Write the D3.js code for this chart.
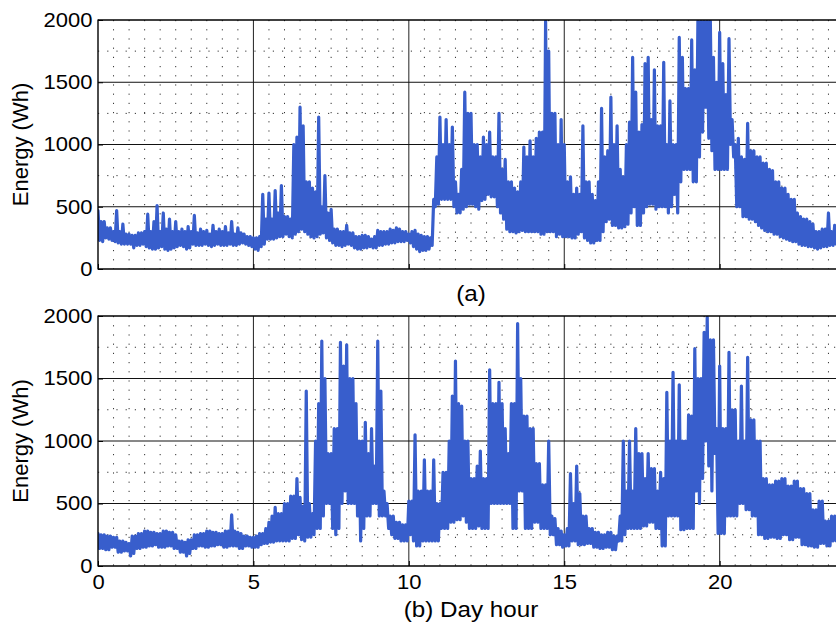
<!DOCTYPE html>
<html>
<head>
<meta charset="utf-8">
<script src="https://cdn.jsdelivr.net/npm/d3@7"></script>
<style>
  html, body { margin: 0; padding: 0; background: #fff; overflow: hidden; }
  svg { display: block; }
</style>
</head>
<body>
<svg id="chart" width="836" height="626"></svg>
<script>
// Energy readings in 0.1 h bins starting at hour 0: the highest and the
// lowest reading of every bin. The trace swings between the two.
const binHours = 0.1;

const xTicks = [0, 5, 10, 15, 20];
const yTicks = [0, 500, 1000, 1500, 2000];
const yLabel = "Energy (Wh)";
const captions = ["(a)", "(b) Day hour"];

// Household (a)
const peaksA = [
  470, 380, 380, 330, 330, 300, 470, 300, 360, 280,
  280, 270, 270, 290, 290, 300, 440, 300, 380, 510,
  300, 450, 320, 400, 300, 380, 300, 320, 300, 340,
  300, 430, 290, 320, 300, 310, 280, 350, 300, 320,
  300, 340, 290, 380, 280, 330, 290, 280, 260, 260,
  250, 250, 260, 600, 400, 610, 400, 630, 450, 670,
  420, 420, 400, 1000, 1060, 1300, 1150, 700, 700, 650,
  620, 1220, 500, 750, 450, 480, 320, 320, 300, 300,
  350, 290, 290, 260, 260, 270, 270, 260, 240, 260,
  310, 300, 300, 300, 320, 310, 330, 320, 300, 300,
  280, 300, 310, 280, 270, 260, 260, 250, 560, 900,
  1220, 1000, 1200, 1000, 1140, 700, 600, 800, 1420, 1250,
  1250, 1000, 1000, 900, 1060, 1000, 1100, 900, 900, 1250,
  800, 880, 700, 700, 650, 620, 700, 980, 900, 1030,
  900, 1050, 1100, 1100, 1990, 1750, 1250, 1250, 1000, 1200,
  1000, 700, 740, 600, 650, 600, 1150, 700, 700, 600,
  550, 700, 1290, 900, 950, 1380, 1000, 1150, 800, 740,
  1000, 1180, 1700, 1420, 1100, 1160, 1650, 1700, 1200, 1600,
  1150, 1150, 1660, 1000, 1350, 1000, 1000, 1860, 1700, 1450,
  1450, 1840, 1600, 1990, 1990, 1990, 1990, 1990, 1700, 1500,
  1900, 1650, 1400, 1850, 1200, 1000, 1050, 900, 880, 1170,
  950, 950, 900, 900, 850, 850, 800, 790, 700, 700,
  650, 650, 600, 560, 560, 450, 420, 400, 400, 380,
  360, 300, 300, 320, 320, 450, 300, 350, 300, 300
];
const troughsA = [
  230, 220, 250, 240, 230, 220, 210, 200, 200, 200,
  200, 170, 190, 190, 200, 180, 170, 160, 160, 170,
  180, 160, 150, 160, 170, 180, 190, 180, 160, 170,
  200, 190, 190, 190, 200, 190, 180, 190, 200, 190,
  190, 190, 200, 190, 190, 200, 210, 200, 190, 180,
  160, 150, 180, 200, 240, 240, 240, 250, 260, 260,
  280, 260, 250, 280, 300, 320, 300, 280, 260, 250,
  260, 280, 290, 250, 230, 210, 190, 190, 180, 190,
  200, 190, 170, 160, 160, 170, 170, 180, 170, 170,
  190, 190, 200, 200, 210, 210, 220, 220, 220, 230,
  210, 180, 160, 140, 150, 150, 160, 190, 500, 520,
  560, 560, 560, 560, 500, 450, 450, 480, 500, 520,
  520, 500, 480, 550, 560, 600, 580, 580, 500, 450,
  400, 320, 300, 300, 290, 300, 310, 300, 300, 300,
  300, 300, 280, 280, 300, 300, 300, 260, 280, 260,
  260, 260, 250, 250, 280, 300, 250, 230, 210, 210,
  230, 230, 300, 380, 400, 350, 350, 330, 330, 340,
  360, 450, 500, 350, 350, 450, 500, 520, 520, 480,
  500, 500, 500, 450, 500, 600, 450, 700, 800, 800,
  800, 700, 700, 900, 1100, 1300, 1050, 950, 800, 800,
  800, 800, 800, 1000, 900, 500, 500, 420, 420, 400,
  400, 380, 350, 330, 310, 300, 300, 280, 280, 260,
  250, 240, 230, 220, 220, 200, 190, 190, 180, 180,
  170, 160, 170, 180, 180, 190, 190, 200, 200, 200
];

// Household (b)
const peaksB = [
  260, 250, 250, 240, 240, 230, 230, 200, 200, 190,
  180, 240, 240, 260, 260, 280, 280, 270, 270, 260,
  260, 280, 280, 270, 270, 250, 200, 200, 190, 210,
  210, 250, 250, 260, 260, 280, 280, 270, 270, 260,
  260, 280, 280, 410, 280, 270, 260, 240, 240, 230,
  230, 240, 260, 260, 300, 350, 400, 470, 420, 420,
  500, 500, 560, 560, 700, 550, 480, 1400, 500, 420,
  1000, 1300, 1800, 1500, 900, 900, 1100, 1100, 1790, 1600,
  1770, 1500, 1500, 1300, 1000, 1000, 1150, 900, 1100, 800,
  1800, 1400, 600, 500, 400, 400, 350, 350, 330, 330,
  520, 520, 1050, 600, 600, 850, 600, 600, 850, 500,
  500, 750, 750, 1000, 1360, 1640, 1300, 1280, 1000, 1000,
  700, 700, 800, 920, 700, 700, 1570, 1300, 1300, 1470,
  1300, 1100, 900, 1300, 1300, 1940, 1500, 1200, 1200, 1100,
  1100, 820, 820, 650, 650, 1000, 400, 380, 300, 280,
  250, 300, 740, 500, 800, 580, 400, 400, 300, 300,
  270, 270, 250, 250, 270, 270, 240, 240, 400, 1000,
  600, 1000, 600, 1100, 900, 900, 700, 900, 780, 780,
  600, 750, 700, 1390, 1000, 1550, 1000, 1450, 1000, 1000,
  1210, 1200, 1740, 1500, 1500, 1870, 1990, 1810, 1810, 1100,
  1600, 1100, 1100, 1710, 1250, 1250, 1000, 1440, 1000, 1670,
  1170, 1170, 1000, 1000, 700, 700, 650, 650, 680, 680,
  700, 700, 640, 640, 680, 680, 620, 620, 580, 580,
  450, 450, 520, 520, 360, 360, 400, 400, 350, 350
];
const troughsB = [
  140, 140, 130, 130, 150, 150, 110, 110, 120, 120,
  80, 100, 140, 140, 150, 150, 160, 160, 170, 150,
  150, 150, 160, 160, 140, 140, 110, 110, 80, 100,
  140, 140, 160, 160, 150, 150, 160, 160, 170, 170,
  150, 150, 160, 160, 160, 140, 140, 160, 160, 150,
  150, 150, 170, 180, 180, 190, 190, 200, 200, 200,
  200, 200, 220, 220, 250, 210, 200, 230, 230, 250,
  300, 300, 400, 500, 500, 300, 250, 300, 500, 600,
  500, 500, 500, 400, 200, 300, 400, 400, 500, 500,
  400, 400, 400, 300, 250, 220, 220, 200, 200, 200,
  250, 200, 160, 160, 200, 200, 200, 200, 200, 200,
  300, 300, 300, 350, 350, 370, 370, 400, 350, 300,
  300, 300, 320, 300, 300, 300, 500, 500, 500, 500,
  500, 500, 500, 300, 300, 600, 600, 300, 300, 300,
  350, 350, 300, 300, 300, 250, 250, 170, 170, 150,
  160, 160, 200, 200, 170, 170, 170, 180, 180, 150,
  150, 140, 140, 150, 150, 130, 130, 200, 200, 250,
  300, 300, 300, 300, 300, 320, 320, 350, 350, 300,
  300, 160, 160, 400, 400, 400, 400, 290, 290, 300,
  300, 300, 600, 500, 700, 1000, 800, 600, 900, 260,
  260, 260, 400, 400, 400, 400, 500, 500, 450, 450,
  400, 400, 250, 250, 220, 220, 230, 230, 220, 220,
  250, 250, 210, 210, 230, 230, 170, 170, 160, 160,
  150, 150, 180, 180, 160, 160, 200, 200, 200, 200
];

const FONT = "'Liberation Sans', Arial, Helvetica, sans-serif";
const LINE_COLOR = "#385ecc";
const svg = d3.select("#chart");

const left = 98, right = 844;
const x = d3.scaleLinear().domain([0, 24]).range([left, right]);

// peak at the start of each bin, trough half a bin later
function trace(peaks, troughs) {
  return peaks.flatMap((p, i) => [
    { h: i * binHours, v: p },
    { h: i * binHours + binHours / 2, v: troughs[i] }
  ]);
}

const panels = [
  { top: 20,  bottom: 269, series: trace(peaksA, troughsA), caption: captions[0], capY: 301, showX: false },
  { top: 316, bottom: 566, series: trace(peaksB, troughsB), caption: captions[1], capY: 617, showX: true }
];

const minorX = d3.range(0.5, 24, 0.5).filter(v => v % 5 !== 0);
const minorY = [250, 750, 1250, 1750];

panels.forEach((p, k) => {
  const y = d3.scaleLinear().domain([0, 2000]).range([p.bottom, p.top]);
  const g = svg.append("g");

  const clipId = "clip" + k;
  svg.append("clipPath").attr("id", clipId)
    .append("rect").attr("x", left).attr("y", p.top)
    .attr("width", right - left).attr("height", p.bottom - p.top);

  // dotted minor grid
  g.append("g").selectAll("line").data(minorX).join("line")
    .attr("x1", d => x(d)).attr("x2", d => x(d))
    .attr("y1", p.top).attr("y2", p.bottom)
    .attr("stroke", "#333").attr("stroke-width", 1)
    .attr("stroke-dasharray", "1.2,8");
  g.append("g").selectAll("line").data(minorY).join("line")
    .attr("x1", left).attr("x2", right)
    .attr("y1", d => y(d)).attr("y2", d => y(d))
    .attr("stroke", "#333").attr("stroke-width", 1)
    .attr("stroke-dasharray", "1.2,8");

  // solid major grid
  g.append("g").selectAll("line").data(xTicks.filter(v => v > 0)).join("line")
    .attr("x1", d => x(d)).attr("x2", d => x(d))
    .attr("y1", p.top).attr("y2", p.bottom)
    .attr("stroke", "#222").attr("stroke-width", 1);
  g.append("g").selectAll("line").data(yTicks.filter(v => v > 0 && v < 2000)).join("line")
    .attr("x1", left).attr("x2", right)
    .attr("y1", d => y(d)).attr("y2", d => y(d))
    .attr("stroke", "#111").attr("stroke-width", 1);

  // energy trace
  const line = d3.line()
    .x(d => x(d.h))
    .y(d => y(d.v));
  g.append("path")
    .datum(p.series)
    .attr("clip-path", `url(#${clipId})`)
    .attr("d", line)
    .attr("fill", "none")
    .attr("stroke", LINE_COLOR)
    .attr("stroke-width", 3.2)
    .attr("stroke-linejoin", "round")
    .attr("stroke-linecap", "round");

  // axes
  const yAxis = d3.axisLeft(y).tickValues(yTicks).tickSize(-5).tickPadding(5)
    .tickFormat(d3.format("d"));
  const ya = g.append("g").attr("transform", `translate(${left},0)`).call(yAxis);
  const xAxis = d3.axisBottom(x).tickValues(xTicks).tickSize(-5).tickPadding(9)
    .tickFormat(p.showX ? d3.format("d") : "");
  const xa = g.append("g").attr("transform", `translate(0,${p.bottom})`).call(xAxis);

  [ya, xa].forEach(a => {
    a.select(".domain").remove();
    a.selectAll(".tick line").attr("stroke", "#000").attr("stroke-width", 1);
    a.selectAll(".tick text")
      .attr("fill", "#000")
      .style("font-family", FONT)
      .style("font-size", "20px")
      .attr("transform", "scale(1.1,1)");
  });

  // box edges
  g.append("line").attr("x1", left).attr("x2", left).attr("y1", p.top - 0.5).attr("y2", p.bottom + 0.5)
    .attr("stroke", "#000").attr("stroke-width", 1.4);
  g.append("line").attr("x1", left).attr("x2", right).attr("y1", p.top).attr("y2", p.top)
    .attr("stroke", "#000").attr("stroke-width", 1.4);
  g.append("line").attr("x1", left).attr("x2", right).attr("y1", p.bottom).attr("y2", p.bottom)
    .attr("stroke", "#000").attr("stroke-width", 1.4);

  // y label
  svg.append("text")
    .attr("transform", `translate(28,${(p.top + p.bottom) / 2}) rotate(-90)`)
    .attr("text-anchor", "middle")
    .style("font-family", FONT).style("font-size", "22px")
    .text(yLabel);

  // caption under each panel
  const cx = (left + right) / 2;
  svg.append("text")
    .attr("transform", `translate(${cx},${p.capY}) scale(1.1,1)`)
    .attr("text-anchor", "middle")
    .style("font-family", FONT).style("font-size", "22px")
    .text(p.caption);
});
</script>
</body>
</html>
